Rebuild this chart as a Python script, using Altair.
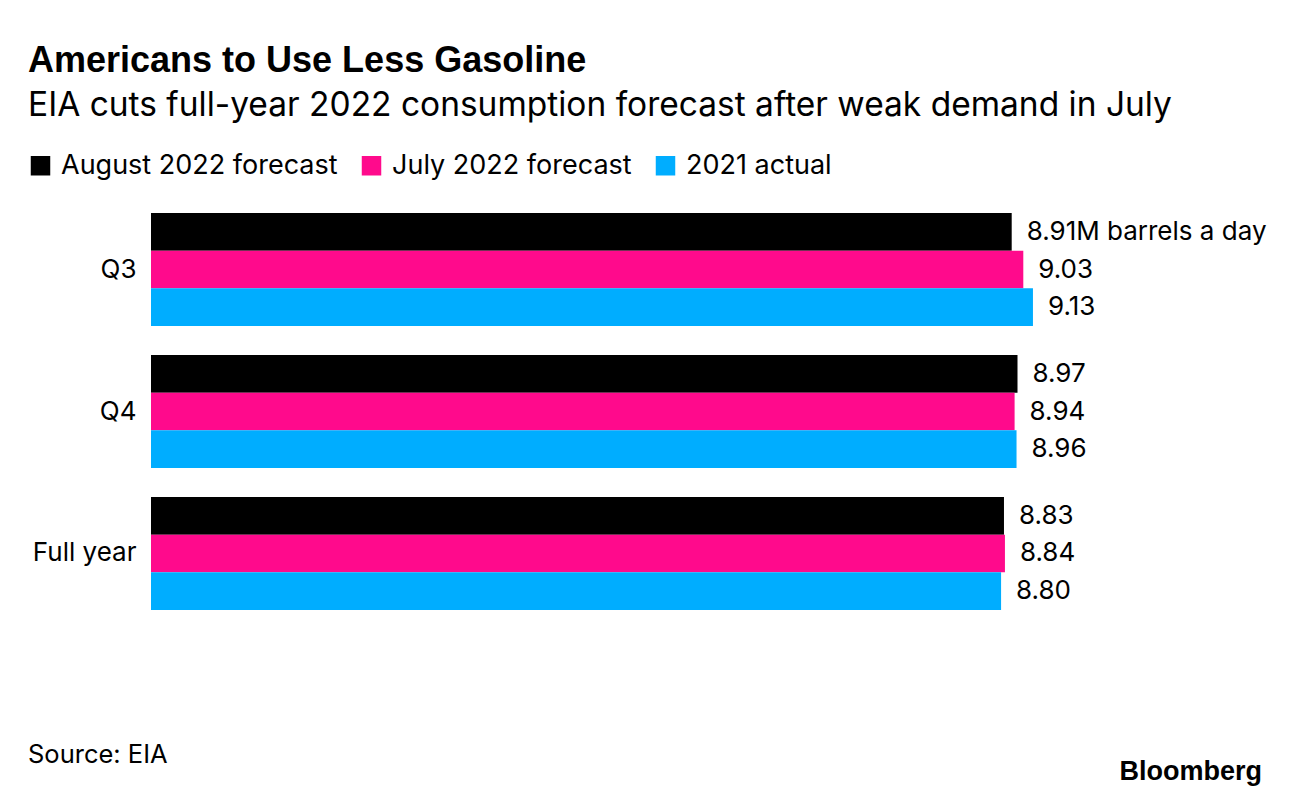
import altair as alt
import pandas as pd

categories = ["Q3", "Q4", "Full year"]
series = ["August 2022 forecast", "July 2022 forecast", "2021 actual"]
aug_2022 = [8.91, 8.97, 8.83]
jul_2022 = [9.03, 8.94, 8.84]
actual_2021 = [9.13, 8.96, 8.80]
colors = ["#000000", "#ff0a8c", "#00adff"]

title_text = "Americans to Use Less Gasoline"
subtitle_text = "EIA cuts full-year 2022 consumption forecast after weak demand in July"
source_text = ["Source: EIA"]
logo_text = ["Bloomberg"]

rows = []
for i, c in enumerate(categories):
    for s, vals in zip(series, [aug_2022, jul_2022, actual_2021]):
        v = vals[i]
        label = f"{v:.2f}"
        if i == 0 and s == series[0]:
            label = f"{v:.2f}M barrels a day"
        rows.append({"category": c, "series": s, "value": v, "label": label})
df = pd.DataFrame(rows)

FONT = "Inter"
BOLD = "Liberation Sans"

base = alt.Chart(df).encode(
    y=alt.Y(
        "category:N",
        sort=categories,
        scale=alt.Scale(paddingInner=0.204, paddingOuter=0),
        axis=alt.Axis(
            title=None, ticks=False, domain=False, labelFontSize=26,
            labelPadding=15, labelColor="#000000", labelFont=FONT,
        ),
    ),
    yOffset=alt.YOffset("series:N", sort=series,
                        scale=alt.Scale(paddingInner=0, paddingOuter=0)),
)

bars = base.mark_bar(cornerRadius=0).encode(
    x=alt.X("value:Q", scale=alt.Scale(domain=[0, 10], nice=False), axis=None),
    color=alt.Color(
        "series:N", sort=series,
        scale=alt.Scale(domain=series, range=colors),
        legend=alt.Legend(
            orient="none", legendX=-124, legendY=-61, direction="horizontal",
            title=None, symbolType="square", symbolSize=380,
            symbolStrokeWidth=0, symbolOpacity=1, labelFontSize=27,
            labelFont=FONT, labelColor="#000000", labelOffset=7,
            labelLimit=0, columnPadding=20, padding=0,
        ),
    ),
)

labels = base.mark_text(align="left", baseline="middle", dx=15, fontSize=26,
                        font=FONT, color="#000000").encode(
    x=alt.X("value:Q"),
    text="label:N",
)

source = alt.Chart(pd.DataFrame({"t": source_text})).mark_text(
    align="left", baseline="alphabetic", fontSize=25.5, font=FONT, color="#000000"
).encode(x=alt.value(-123), y=alt.value(550), text="t:N")

logo = alt.Chart(pd.DataFrame({"t": logo_text})).mark_text(
    align="right", baseline="alphabetic", fontSize=27, fontWeight="bold",
    font=BOLD, color="#000000"
).encode(x=alt.value(1111), y=alt.value(567), text="t:N")

chart = alt.layer(bars, labels, source, logo).properties(
    width=966,
    height=397,
    padding={"left": 143, "top": 205, "right": 164, "bottom": 178},
    autosize=alt.AutoSizeParams(type="none"),
    title=alt.TitleParams(
        text=title_text, subtitle=subtitle_text, anchor="start", frame="group",
        dx=-123, offset=29, font=BOLD, fontSize=36, fontWeight="bold",
        color="#000000", subtitleFont=FONT, subtitleFontSize=33.5,
        subtitleColor="#000000", subtitlePadding=10,
    ),
).configure_view(stroke=None)

chart.save("out.html", embed_options={"renderer": "svg", "actions": False})
